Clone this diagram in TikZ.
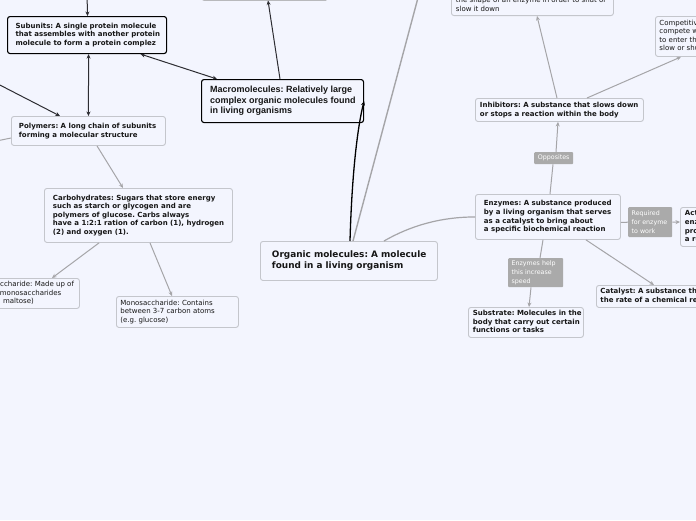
\documentclass[tikz,border=0pt]{standalone}
\usepackage{fontspec}
\setmainfont{DejaVu Sans}
\newfontfamily\arialb{Liberation Sans}
\usetikzlibrary{arrows.meta}
\definecolor{bg}{RGB}{243,245,254}
\definecolor{bord}{RGB}{196,198,204}
\definecolor{lin}{RGB}{165,165,168}
\definecolor{dlin}{RGB}{45,45,50}
\definecolor{tagc}{RGB}{170,170,170}
\definecolor{txt}{RGB}{22,22,22}
\newcommand\lbox[2]{\hbox to #1{\begin{tabular}{@{}l@{}}#2\end{tabular}\hss}}
\begin{document}
\frenchspacing
\begin{tikzpicture}[x=1pt,y=-1pt,
  base/.style={draw=bord, line width=0.9pt, rounded corners=2.5pt, fill=bg, anchor=north west, inner ysep=1pt, text=txt},
  bbox/.style={base, font=\fontsize{7}{8.7}\selectfont\bfseries},
  pbox/.style={base, font=\fontsize{7}{8.5}\selectfont},
  sel/.style={draw=black, line width=1.1pt},
  tag/.style={fill=tagc, draw=none, rounded corners=1pt, text=white, anchor=north west, inner ysep=1pt, font=\fontsize{6.3}{9}\selectfont},
  con/.style={draw=lin, line width=1pt},
  dcon/.style={draw=dlin, line width=1pt},
  tip/.style={-{Stealth[length=4.5pt,width=4pt]}},
  tips/.style={{Stealth[length=4.5pt,width=4pt]}-{Stealth[length=4.5pt,width=4pt]}},
]
\fill[bg] (0,0) rectangle (696,520);
\useasboundingbox (0,0) rectangle (696,520);

% nodes
\node[draw=gray!80, line width=1.3pt, rounded corners=2pt, fill=bg, minimum width=126, minimum height=30, anchor=south west, inner sep=0] (topbox) at (201,0.5) {};
\node[bbox, sel, inner xsep=8, minimum height=37] (subunits) at (7,16) {\lbox{143pt}{Subunits: A single protein molecule\\that assembles with another protein\\molecule to form a protein complez}};
\node[base, sel, font=\arialb\fontsize{9}{10.5}\selectfont\bfseries, inner xsep=8.5, minimum height=43] (macro) at (201,79) {\lbox{145pt}{Macromolecules: Relatively large\\complex organic molecules found\\in living organisms}};
\node[bbox, inner xsep=7.5, minimum height=29] (polymers) at (11,116) {\lbox{139pt}{Polymers: A long chain of subunits\\forming a molecular structure}};
\node[bbox, inner xsep=8.5, minimum height=54, font=\fontsize{7}{8.5}\selectfont\bfseries] (carbs) at (44,188) {\lbox{171pt}{Carbohydrates: Sugars that store energy\\such as starch or glycogen and are\\polymers of glucose. Carbs always\\have a 1:2:1 ration of carbon (1), hydrogen\\(2) and oxygen (1).}};
\node[pbox, inner xsep=4.5, minimum height=30] (disacch) at (-20,278) {\lbox{90pt}{Disaccharide: Made up of\\two monosaccharides\\(e.g. maltose)}};
\node[pbox, inner xsep=4, minimum height=31] (mono) at (116,296) {\lbox{114pt}{Monosaccharide: Contains\\between 3-7 carbon atoms\\(e.g. glucose)}};
\node[bbox, font=\fontsize{8.9}{11}\selectfont\bfseries, inner xsep=11.5, minimum height=39] (organic) at (260,241) {\lbox{154pt}{Organic molecules: A molecule\\found in a living organism}};
\node[bbox, inner xsep=4.5, minimum height=23] (inhibitors) at (475,98) {\lbox{159pt}{Inhibitors: A substance that slows down\\or stops a reaction within the body}};
\node[pbox, anchor=south west, inner xsep=4.5, inner ysep=2] (topright) at (451,16) {\lbox{153pt}{the shape of an enzyme in order to shut or\\slow it down}};
\node[pbox, inner xsep=4, minimum height=40] (competitive) at (655,16) {\lbox{110pt}{Competitive inhibitors:\\compete with substrates\\to enter the active site to\\slow or shut it down}};
\node[tag, minimum width=39, minimum height=12, inner xsep=1] (opposites) at (534,152) {Opposites};
\node[tag, inner xsep=3.5, minimum height=30] (required) at (628,207) {\lbox{37pt}{Required\\for enzyme\\to work}};
\node[bbox, inner xsep=8.5, minimum height=45] (enzymes) at (475,194) {\lbox{128pt}{Enzymes: A substance produced\\by a living organism that serves\\as a catalyst to bring about\\a specific biochemical reaction}};
\node[bbox, inner xsep=4.5, minimum height=39] (active) at (680,207) {\lbox{120pt}{Active site: the part of an\\enzyme where substrates\\produce\\a reaction}};
\node[tag, inner xsep=3.5, minimum height=29] (help) at (508,258) {\lbox{48pt}{Enzymes help\\this increase\\speed}};
\node[bbox, inner xsep=4.5, minimum height=30] (substrate) at (468,307) {\lbox{106pt}{Substrate: Molecules in the\\body that carry out certain\\functions or tasks}};
\node[bbox, inner xsep=4, minimum height=22] (catalyst) at (596,285) {\lbox{160pt}{Catalyst: A substance that increases\\the rate of a chemical reaction}};

% free ends
\coordinate (ctop) at (87,-6);
\coordinate (cleft) at (-6,82);
\coordinate (cleft2) at (-6,141.5);
\coordinate (ctop2) at (419,-6);

% connectors
\draw[dcon,tip] (ctop) -- ([xshift=0.5]subunits.north);
\draw[dcon,tips] ([xshift=1.5]subunits.south) -- (polymers.north);
\draw[dcon,tips] ([xshift=53.5]subunits.south) -- ([xshift=16]macro.north west);
\draw[dcon,tip] (cleft) -- ([xshift=49]polymers.north west);
\draw[dcon,tip] ([xshift=79]macro.north west) -- ([xshift=67]topbox.south west);
\draw[draw=black, line width=1.3pt, tip] ([xshift=90]organic.north west) .. controls (352,170) and (358,125) .. (macro.east);
\draw[con, line width=1.4pt] ([xshift=93]organic.north west) -- (ctop2);
\draw[con, line width=1.2pt] ([xshift=124]organic.north west) .. controls (410,226) and (440,217) .. (enzymes.west);
\draw[con,tip] ([xshift=86]polymers.south west) -- ([xshift=79]carbs.north west);
\draw[con,tip] ([xshift=55]carbs.south west) -- ([xshift=72]disacch.north west);
\draw[con,tip] ([xshift=106]carbs.south west) -- ([xshift=56]mono.north west);
\draw[con] ([yshift=-22]polymers.north west) -- (cleft2);
\draw[con] ([xshift=75]enzymes.north west) -- ([xshift=19]opposites.south west);
\draw[con,tip] ([xshift=22]opposites.north west) -- ([xshift=83]inhibitors.south west);
\draw[con,tip] ([xshift=82]inhibitors.north west) -- ([xshift=86]topright.south west);
\draw[con,tip] ([xshift=112]inhibitors.north west) -- ([xshift=26]competitive.south west);
\draw[con] ([yshift=-5.5]enzymes.east) -- (required.west);
\draw[con,tip] (required.east) -- ([yshift=-15]active.north west);
\draw[con] ([xshift=68]enzymes.south west) -- ([xshift=32]help.north west);
\draw[con,tip] ([xshift=23]help.south west) -- ([xshift=61]substrate.north west);
\draw[con,tip] ([xshift=111]enzymes.south west) -- ([xshift=58]catalyst.north west);
\end{tikzpicture}
\end{document}
